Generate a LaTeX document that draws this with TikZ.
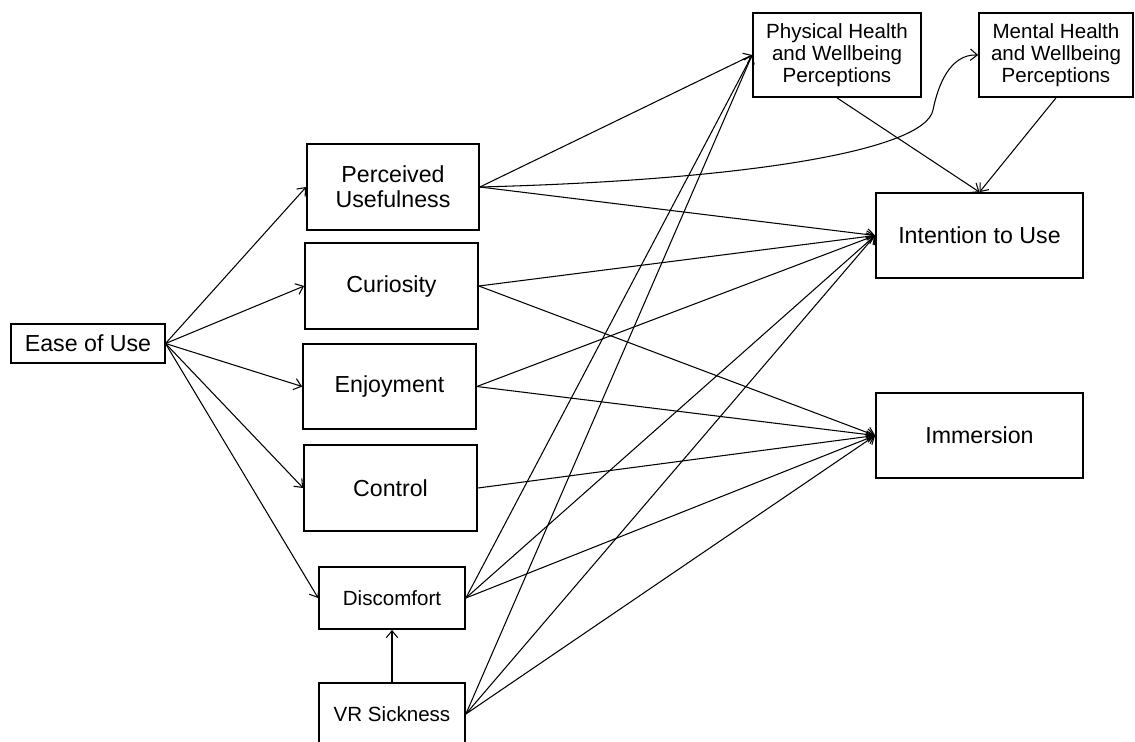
\documentclass[tikz,border=0pt]{standalone}
\usepackage{fontspec}
\setmainfont{Liberation Sans}
\usetikzlibrary{arrows.meta}

\begin{document}
\begin{tikzpicture}[
            x=0.02cm, y=-0.02cm,
            every node/.style={draw, rectangle, line width=1pt, align=center, inner sep=2pt},
            bigbox/.style={font=\fontsize{13.2}{14.2}\selectfont},
            smallbox/.style={font=\fontsize{11.7}{12.5}\selectfont},
            link/.style={line width=0.6pt, -{Straight Barb[length=4pt,width=6.5pt]}}
        ]

        \useasboundingbox (0,0) rectangle (1135,741);

        % predictors
        \node[bigbox, line width=0.6pt, minimum width=3.08cm, minimum height=0.78cm] (eou) at (88,343.5) {Ease of Use};
        \node[bigbox, minimum width=3.44cm, minimum height=1.72cm] (pu) at (393,187) {Perceived\\Usefulness};
        \node[bigbox, minimum width=3.46cm, minimum height=1.72cm] (cur) at (391.5,286) {Curiosity};
        \node[bigbox, minimum width=3.46cm, minimum height=1.70cm] (enj) at (389.5,386.5) {Enjoyment};
        \node[bigbox, minimum width=3.46cm, minimum height=1.72cm] (ctl) at (390.5,488) {Control};
        \node[smallbox, minimum width=2.92cm, minimum height=1.24cm] (dis) at (392,598) {Discomfort};
        \node[smallbox, minimum width=2.92cm, minimum height=1.24cm] (vrs) at (392,714) {VR Sickness};

        % perceptions
        \node[smallbox, minimum width=3.36cm, minimum height=1.68cm] (phw) at (837,55) {Physical Health\\and Wellbeing\\Perceptions};
        \node[smallbox, minimum width=3.08cm, minimum height=1.68cm] (mhw) at (1056,55) {Mental Health\\and Wellbeing\\Perceptions};

        % outcomes
        \node[bigbox, minimum width=4.14cm, minimum height=1.70cm] (itu) at (979.5,235.5) {Intention to Use};
        \node[bigbox, minimum width=4.14cm, minimum height=1.70cm] (imm) at (979.5,435.5) {Immersion};

        % ease of use
        \foreach \t in {pu, cur, enj, ctl, dis}
            \draw[link] (eou.east) -- (\t.west);

        % perceived usefulness
        \draw[link] (pu.east) -- (phw.west);
        \draw[link] (pu.east) .. controls (750,180) and (925,150) .. (933,110)
            .. controls (938,85) and (950,54) .. (mhw.west);
        \draw[link] (pu.east) -- (itu.west);

        % curiosity, enjoyment, control
        \draw[link] (cur.east) -- (itu.west);
        \draw[link] (cur.east) -- (imm.west);
        \draw[link] (enj.east) -- (itu.west);
        \draw[link] (enj.east) -- (imm.west);
        \draw[link] (ctl.east) -- (imm.west);

        % discomfort and sickness
        \foreach \s in {dis, vrs} {
            \draw[link] (\s.east) -- (phw.west);
            \draw[link] (\s.east) -- (itu.west);
            \draw[link] (\s.east) -- (imm.west);
        }
        \draw[link] (vrs.north) -- (dis.south);

        % perceptions to intention
        \draw[link] (phw.south) -- (itu.north);
        \draw[link] (mhw.south) -- (itu.north);

        \end{tikzpicture}
\end{document}
